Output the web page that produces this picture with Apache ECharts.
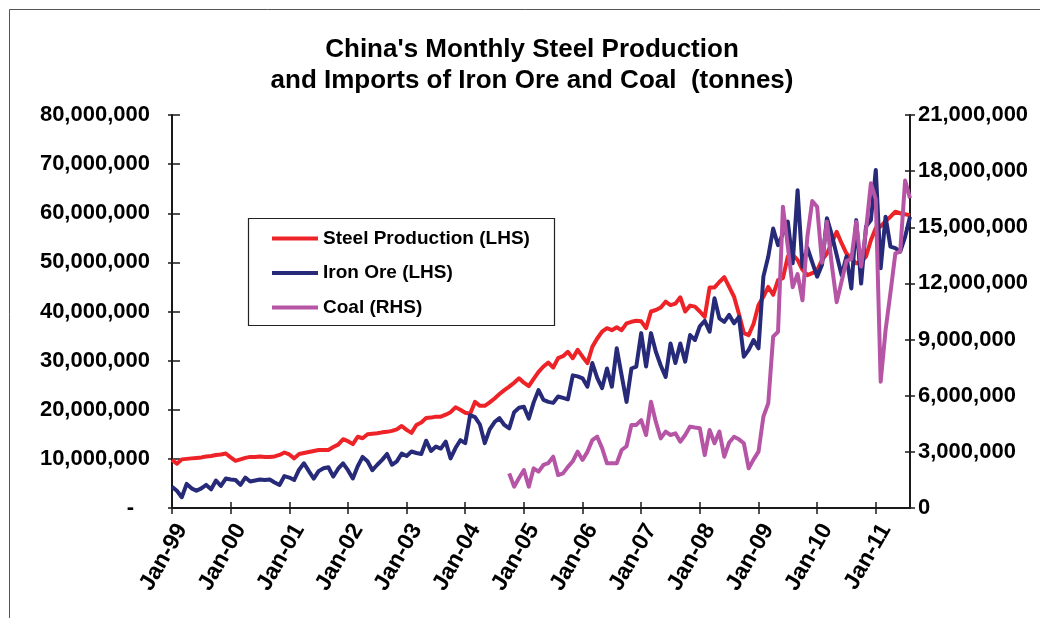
<!DOCTYPE html>
<html>
<head>
<meta charset="utf-8">
<script src="https://cdn.jsdelivr.net/npm/echarts@6/dist/echarts.min.js"></script>
<style>
  html, body { margin: 0; padding: 0; background: #ffffff; }
  #chart { width: 1040px; height: 618px; }
</style>
</head>
<body>
<div id="chart"></div>
<script>
// Monthly series, Jan-1999 .. Aug-2011 (millions of tonnes)
const monthNames = ['Jan','Feb','Mar','Apr','May','Jun','Jul','Aug','Sep','Oct','Nov','Dec'];
const startYear = 1999;

// Steel production (LHS)
const steelProduction = [
  9.8, 9.0, 9.9, 10.0, 10.1, 10.2, 10.3, 10.5, 10.6, 10.8, 10.9, 11.1,
  10.3, 9.6, 9.9, 10.2, 10.4, 10.4, 10.5, 10.4, 10.4, 10.5, 10.8, 11.3,
  10.9, 10.1, 11.0, 11.2, 11.4, 11.6, 11.8, 11.8, 11.8, 12.4, 12.9, 14.0,
  13.6, 13.0, 14.5, 14.2, 15.0, 15.1, 15.2, 15.4, 15.5, 15.7, 16.0, 16.7,
  15.9, 15.3, 16.9, 17.4, 18.3, 18.4, 18.6, 18.6, 19.0, 19.5, 20.5, 20.0,
  19.4, 19.2, 21.6, 20.8, 20.8, 21.5, 22.3, 23.2, 24.0, 24.7, 25.5, 26.4,
  25.5, 24.8, 26.3, 27.7, 28.8, 29.6, 28.6, 30.5, 30.9, 31.8, 30.5, 32.2,
  30.8, 29.5, 32.8, 34.5, 35.9, 36.6, 36.2, 36.8, 36.2, 37.6, 37.9, 38.1,
  38.0, 36.6, 40.0, 40.3, 40.8, 42.0, 41.3, 41.6, 42.9, 40.0, 41.2, 41.0,
  40.0, 38.9, 44.9, 44.9, 46.0, 47.0, 45.0, 43.0, 39.5, 35.6, 35.2, 37.5,
  41.3, 43.0, 45.0, 43.4, 46.4, 46.8, 51.2, 51.5, 50.5, 48.5, 47.4, 47.8,
  48.4, 50.5, 51.8, 54.0, 56.2, 53.9, 51.8, 50.8, 49.8, 50.1, 51.2, 54.5,
  57.0, 57.3, 58.4, 59.3, 60.3, 60.0, 59.8, 59.6
];

// Iron ore imports (LHS)
const ironOreImports = [
  4.3, 3.5, 2.2, 4.9, 4.0, 3.5, 4.0, 4.7, 3.8, 5.6, 4.5, 6.0,
  5.8, 5.7, 4.7, 6.2, 5.4, 5.6, 5.8, 5.7, 5.8, 5.2, 4.7, 6.5,
  6.2, 5.7, 7.8, 9.1, 7.5, 6.0, 7.5, 8.1, 8.3, 6.4, 8.0, 9.1,
  7.7, 6.0, 8.5, 10.4, 9.5, 7.7, 8.8, 9.8, 11.0, 8.8, 9.5, 11.1,
  10.6, 11.5, 11.2, 11.0, 13.7, 11.6, 12.5, 12.1, 13.5, 10.1, 12.2, 13.8,
  13.2, 18.9, 18.5, 17.0, 13.2, 16.0, 17.5, 18.3, 16.9, 16.2, 19.5, 20.4,
  20.6, 18.2, 21.5, 24.0, 22.0, 21.6, 21.4, 22.7, 22.4, 22.1, 27.0, 26.8,
  26.4, 24.7, 29.5, 26.5, 24.4, 28.4, 24.7, 32.5, 27.0, 21.6, 28.4, 28.8,
  35.6, 28.8, 35.6, 31.8, 29.0, 26.7, 33.5, 29.5, 33.5, 29.8, 35.2, 34.2,
  37.0, 38.1, 35.9, 42.7, 38.6, 37.9, 39.3, 37.6, 38.9, 30.8, 32.2, 34.2,
  32.5, 47.1, 51.2, 56.9, 53.5, 55.9, 58.3, 49.8, 64.7, 49.1, 53.0, 50.0,
  47.1, 49.5, 59.0, 55.6, 51.5, 47.4, 51.2, 44.7, 58.6, 45.7, 57.3, 58.6,
  68.8, 48.8, 59.3, 53.2, 52.9, 52.2, 55.2, 59.3
];

// Coal imports (RHS), reported from Oct-2004
const coalStartIndex = 69;
const coalImports = [
  1.85, 1.14, 1.6, 2.03, 1.14, 2.12, 1.94, 2.30, 2.4, 2.74,
  1.76, 1.85, 2.2, 2.5, 3.01, 2.57, 3.0, 3.63, 3.81, 3.2,
  2.39, 2.39, 2.39, 3.10, 3.3, 4.44, 4.44, 4.70, 3.90, 5.68,
  4.6, 3.72, 4.08, 3.90, 3.99, 3.54, 3.9, 4.35, 4.30, 4.26,
  2.83, 4.17, 3.46, 4.08, 2.74, 3.5, 3.81, 3.67, 3.46, 2.12,
  2.6, 3.01, 4.88, 5.60, 9.16, 9.42, 16.1, 13.97, 11.8, 12.5,
  11.1, 14.5, 16.4, 16.1, 13.1, 15.3, 13.0, 11.0, 12.1, 13.2,
  13.3, 15.3, 12.9, 14.86, 17.35, 16.5, 6.75, 9.5, 11.5, 13.6,
  13.7, 17.5, 16.55
];

// Axis scales
const leftAxis = { min: 0, max: 80, interval: 10 };
const rightAxis = { min: 0, max: 21, interval: 3 };

const categories = steelProduction.map((_, i) =>
  monthNames[i % 12] + '-' + String((startYear + Math.floor(i / 12)) % 100).padStart(2, '0'));

const coalSeries = categories.map((_, i) =>
  i < coalStartIndex ? null : coalImports[i - coalStartIndex]);

const FONT = '"Liberation Sans", Arial, sans-serif';
const AXIS_COLOR = '#1a1a1a';
const isJan = (idx) => idx % 12 === 0;
const tonnes = (v) => Math.round(v * 1e6).toLocaleString('en-US');

const chart = echarts.init(document.getElementById('chart'), null, { renderer: 'canvas' });

const baseY = (scale, pos) => ({
  type: 'value', position: pos, min: scale.min, max: scale.max, interval: scale.interval,
  splitLine: { show: false }
});

chart.setOption({
  animation: false,
  backgroundColor: '#ffffff',
  title: {
    text: "China's Monthly Steel Production\nand Imports of Iron Ore and Coal  (tonnes)",
    left: 532, top: 34, textAlign: 'center', padding: 0,
    textStyle: { fontFamily: FONT, fontWeight: 'bold', fontSize: 26, lineHeight: 31, color: '#000' }
  },
  legend: {
    orient: 'vertical', left: 272, top: 229, padding: 0,
    icon: 'rect', itemWidth: 46, itemHeight: 4, itemGap: 15.5,
    data: ['Steel Production (LHS)', 'Iron Ore (LHS)', 'Coal (RHS)'],
    textStyle: { fontFamily: FONT, fontWeight: 'bold', fontSize: 19, lineHeight: 19, color: '#000' }
  },
  grid: { left: 172, right: 130, top: 115, bottom: 110, containLabel: false },
  xAxis: [
    {
      type: 'category', data: categories, boundaryGap: false, position: 'bottom',
      axisLine: { lineStyle: { color: AXIS_COLOR, width: 2 } },
      axisTick: { interval: (idx) => isJan(idx), length: 6, lineStyle: { color: AXIS_COLOR, width: 1.5 } },
      axisLabel: {
        interval: (idx) => isJan(idx), rotate: 60, margin: 12, verticalAlign: 'top',
        fontFamily: FONT, fontWeight: 'bold', fontSize: 23, color: '#000'
      }
    },
    {
      type: 'category', data: categories, boundaryGap: false, position: 'bottom',
      axisLine: { show: false },
      axisTick: { inside: true, interval: (idx) => isJan(idx), length: 6, lineStyle: { color: AXIS_COLOR, width: 1.5 } },
      axisLabel: { show: false }
    }
  ],
  yAxis: [
    Object.assign(baseY(leftAxis, 'left'), {
      axisLine: { show: true, lineStyle: { color: AXIS_COLOR, width: 2 } },
      axisTick: { show: true, length: 4, lineStyle: { color: AXIS_COLOR, width: 1.5 } },
      axisLabel: {
        margin: 22, fontFamily: FONT, fontWeight: 'bold', fontSize: 22, color: '#000',
        formatter: (v) => v === 0 ? '{z|-}' : tonnes(v),
        rich: { z: { fontFamily: FONT, fontWeight: 'bold', fontSize: 22, color: '#000', padding: [0, 16, 0, 0] } }
      }
    }),
    Object.assign(baseY(rightAxis, 'right'), {
      axisLine: { show: true, lineStyle: { color: AXIS_COLOR, width: 2 } },
      axisTick: { show: true, length: 5, lineStyle: { color: AXIS_COLOR, width: 1.5 } },
      axisLabel: {
        margin: 8, fontFamily: FONT, fontWeight: 'bold', fontSize: 22, color: '#000',
        formatter: (v) => v === 0 ? '0' : tonnes(v)
      }
    }),
    Object.assign(baseY(leftAxis, 'left'), {
      axisLine: { show: false }, axisLabel: { show: false },
      axisTick: { show: true, inside: true, length: 8, lineStyle: { color: AXIS_COLOR, width: 1.5 } }
    }),
    Object.assign(baseY(rightAxis, 'right'), {
      axisLine: { show: false }, axisLabel: { show: false },
      axisTick: { show: true, inside: true, length: 5, lineStyle: { color: AXIS_COLOR, width: 1.5 } }
    })
  ],
  graphic: [
    { type: 'rect', silent: true, z: -1, shape: { x: 9.5, y: 9.5, width: 1040, height: 620 },
      style: { fill: null, stroke: '#555', lineWidth: 1 } },
    { type: 'rect', silent: true, z: 0, shape: { x: 248.5, y: 218.5, width: 306, height: 107 },
      style: { fill: '#fff', stroke: '#222', lineWidth: 1.2 } }
  ],
  series: [
    {
      name: 'Steel Production (LHS)', type: 'line', xAxisIndex: 0, yAxisIndex: 0,
      data: steelProduction, symbol: 'none', color: '#EE2328',
      lineStyle: { width: 4, color: '#EE2328', join: 'round' }
    },
    {
      name: 'Iron Ore (LHS)', type: 'line', xAxisIndex: 0, yAxisIndex: 0,
      data: ironOreImports, symbol: 'none', color: '#262A78',
      lineStyle: { width: 4, color: '#262A78', join: 'round' }
    },
    {
      name: 'Coal (RHS)', type: 'line', xAxisIndex: 0, yAxisIndex: 1,
      data: coalSeries, symbol: 'none', color: '#B655A6', connectNulls: false,
      lineStyle: { width: 4, color: '#B655A6', join: 'round' }
    }
  ]
});
</script>
</body>
</html>
